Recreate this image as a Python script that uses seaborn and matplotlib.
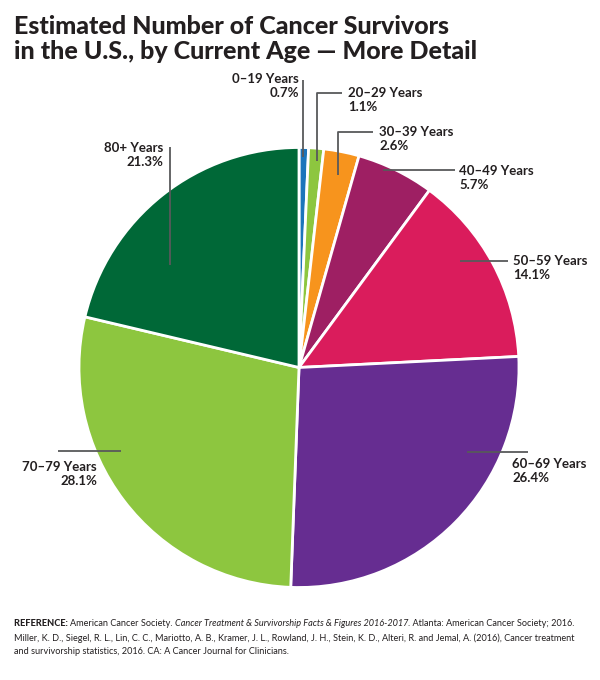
import math
import matplotlib
matplotlib.use("Agg")
import matplotlib.pyplot as plt
import seaborn as sns

# data
age_groups = ["0–19 Years", "20–29 Years", "30–39 Years", "40–49 Years",
              "50–59 Years", "60–69 Years", "70–79 Years", "80+ Years"]
shares = [0.7, 1.1, 2.6, 5.7, 14.1, 26.4, 28.1, 21.3]
slice_colors = ["#1b75bb", "#8dc63f", "#f7941d", "#9e1f63",
                "#da1c5c", "#662d91", "#8dc63f", "#006837"]

title = "Estimated Number of Cancer Survivors\nin the U.S., by Current Age — More Detail"

sns.set_theme(style="white")
plt.rcParams["font.family"] = ["Lato", "DejaVu Sans"]

# layout (pixels, y downwards)
CX, CY, R = 299, 367.5, 220
# (fraction along wedge, radius fraction, leader path, text xy, ha)
leaders = [
    (0.44, 0.957, [("v", 80)], (299, 86), "right"),
    (0.63, 0.942, [("v", 93), ("h", 342)], (348, 100), "left"),
    (0.53, 0.893, [("v", 132), ("h", 373)], (379, 139), "left"),
    (0.35, 0.975, [("h", 455)], (459, 178), "left"),
    (0.40, 0.877, [("h", 508)], (513, 268), "left"),
    (0.31, 0.855, [("h", 528)], (512, 471), "left"),
    (0.62, 0.895, [("h", 58)], (97, 474), "right"),
    (0.33, 0.75, [("v", 147)], (163, 155), "right"),
]

fig = plt.figure(figsize=(6, 6.8), dpi=100)
ax = fig.add_axes([0, 0, 1, 1])

wedges, _ = ax.pie(shares, colors=slice_colors, center=(CX, CY), radius=R,
                   startangle=-90, counterclock=True,
                   wedgeprops=dict(edgecolor="white", linewidth=2))
ax.set_xlim(0, 600)
ax.set_ylim(680, 0)
ax.set_aspect("equal")
ax.axis("off")

for w, lab, val, (f, rf, path, txy, ha) in zip(wedges, age_groups, shares, leaders):
    ang = math.radians(w.theta1 + f * (w.theta2 - w.theta1))
    x0 = CX + rf * R * math.cos(ang)
    y0 = CY + rf * R * math.sin(ang)
    xs, ys = [x0], [y0]
    for kind, v in path:
        if kind == "v":
            xs.append(xs[-1]); ys.append(v)
        else:
            xs.append(v); ys.append(ys[-1])
    ax.plot(xs, ys, color="#58595b", lw=1.3, solid_capstyle="butt", zorder=3)
    ax.text(txy[0], txy[1], f"{lab}\n{val}%", ha=ha, va="center",
            fontsize=9.5, fontweight="bold", color="#231f20",
            linespacing=1.15, zorder=4)

fig.text(14 / 600, 1 - 39 / 680, title, ha="left", va="center",
         fontsize=18, fontweight="black", color="#231f20", linespacing=1.12)

# reference note, drawn piece by piece for mixed styles
ref_lines = [
    [("REFERENCE: ", "black", "normal"), ("American Cancer Society. ", "normal", "normal"),
     ("Cancer Treatment & Survivorship Facts & Figures 2016-2017", "normal", "italic"),
     (". Atlanta: American Cancer Society; 2016.", "normal", "normal")],
    [("Miller, K. D., Siegel, R. L., Lin, C. C., Mariotto, A. B., Kramer, J. L., Rowland, J. H., "
      "Stein, K. D., Alteri, R. and Jemal, A. (2016), Cancer treatment", "normal", "normal")],
    [("and survivorship statistics, 2016. CA: A Cancer Journal for Clinicians.", "normal", "normal")],
]
renderer = fig.canvas.get_renderer()
for i, pieces in enumerate(ref_lines):
    x = 14
    y = 624 + i * 14
    for s, wt, st in pieces:
        t = ax.text(x, y, s, ha="left", va="center", fontsize=6.6,
                    fontweight=wt, fontstyle=st, color="#231f20")
        bb = t.get_window_extent(renderer)
        x += bb.width

fig.savefig("out.png", dpi=100, facecolor="white")
